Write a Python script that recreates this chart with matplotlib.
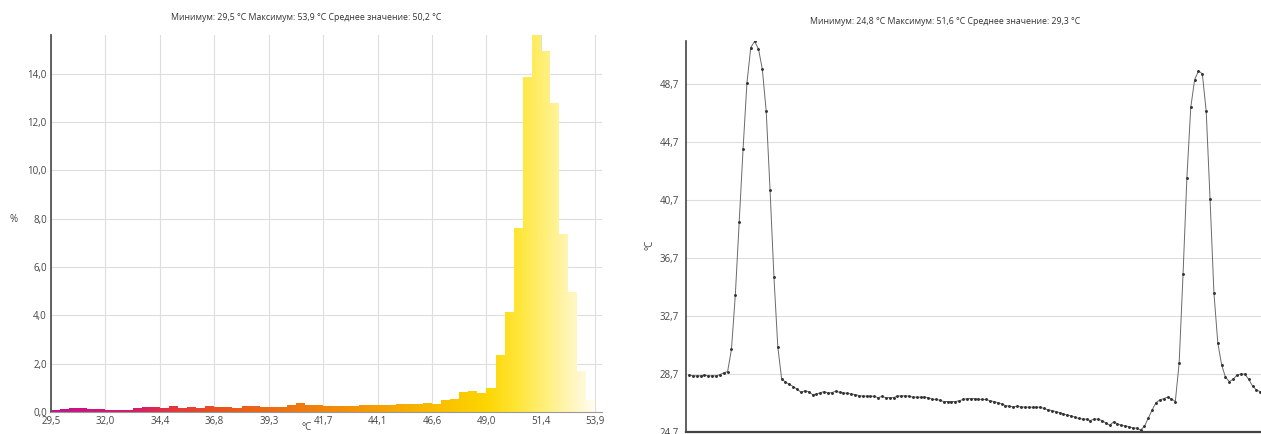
import matplotlib
matplotlib.use("Agg")
import matplotlib.pyplot as plt
from matplotlib.colors import LinearSegmentedColormap
from matplotlib.path import Path
import numpy as np

plt.rcParams["font.family"] = ["Open Sans", "DejaVu Sans"]

# --- histogram (left) ---
HIST_MIN, HIST_MAX = 29.5, 53.9
hist_pct = [
    0.10, 0.14, 0.15, 0.15, 0.14, 0.12, 0.10, 0.10, 0.10, 0.18,
    0.19, 0.19, 0.17, 0.25, 0.17, 0.21, 0.15, 0.23, 0.22, 0.21,
    0.17, 0.26, 0.23, 0.21, 0.19, 0.22, 0.28, 0.36, 0.30, 0.28,
    0.26, 0.25, 0.25, 0.26, 0.28, 0.29, 0.30, 0.30, 0.32, 0.33,
    0.33, 0.39, 0.34, 0.48, 0.55, 0.84, 0.87, 0.80, 0.98, 2.36,
    4.14, 7.60, 13.85, 15.60, 14.95, 12.78, 7.37, 4.96, 1.70, 0.50,
]
hist_xtick_labels = ["29,5", "32,0", "34,4", "36,8", "39,3", "41,7",
                     "44,1", "46,6", "49,0", "51,4", "53,9"]
hist_yticks = [0, 2, 4, 6, 8, 10, 12, 14]
hist_title = "Минимум: 29,5 °C Максимум: 53,9 °C Среднее значение: 50,2 °C"

# --- line profile (right) ---
profile = [
    28.62, 28.57, 28.57, 28.57, 28.62, 28.57, 28.57, 28.57, 28.65, 28.78,
    28.86, 30.40, 34.14, 39.18, 44.16, 48.71, 51.18, 51.60, 51.09, 49.67,
    46.80, 41.36, 35.40, 30.58, 28.36, 28.13, 27.99, 27.83, 27.65, 27.44,
    27.53, 27.48, 27.28, 27.30, 27.41, 27.48, 27.39, 27.41, 27.51, 27.44,
    27.39, 27.37, 27.32, 27.28, 27.21, 27.17, 27.17, 27.17, 27.15, 27.07,
    27.15, 27.07, 27.07, 27.07, 27.17, 27.19, 27.19, 27.17, 27.10, 27.10,
    27.10, 27.10, 27.07, 26.96, 26.94, 26.89, 26.80, 26.80, 26.80, 26.80,
    26.85, 26.94, 27.00, 27.00, 27.00, 26.96, 26.94, 26.94, 26.85, 26.80,
    26.73, 26.64, 26.52, 26.48, 26.43, 26.48, 26.43, 26.41, 26.41, 26.41,
    26.41, 26.41, 26.32, 26.23, 26.18, 26.11, 26.04, 25.95, 25.86, 25.81,
    25.72, 25.63, 25.60, 25.58, 25.49, 25.60, 25.58, 25.49, 25.31, 25.17,
    25.40, 25.26, 25.16, 25.12, 25.07, 24.98, 24.96, 24.84, 25.09, 25.65,
    26.22, 26.73, 26.91, 27.00, 27.10, 26.98, 26.80, 29.48, 35.56, 42.21,
    47.05, 48.96, 49.57, 49.37, 46.80, 40.74, 34.30, 30.85, 29.32, 28.47,
    28.17, 28.34, 28.63, 28.70, 28.68, 28.34, 27.87, 27.60, 27.48,
]
profile_yticks = [24.7, 28.7, 32.7, 36.7, 40.7, 44.7, 48.7]
profile_title = "Минимум: 24,8 °C Максимум: 51,6 °C Среднее значение: 29,3 °C"

heat_cmap = LinearSegmentedColormap.from_list("heat", [
    (0.00, "#c4128e"),
    (0.15, "#d41c68"),
    (0.22, "#e2353e"),
    (0.32, "#ea561a"),
    (0.45, "#f07810"),
    (0.58, "#f59a06"),
    (0.70, "#f9bb00"),
    (0.80, "#fdd600"),
    (0.86, "#ffe63a"),
    (0.91, "#fff07c"),
    (0.96, "#fff6c0"),
    (1.00, "#fffdf2"),
])

GRID = "#dedede"
TXT = "#444444"
FS = 7
FS_TITLE = 6.3

W, H = 1261, 434
fig = plt.figure(figsize=(W / 100, H / 100), dpi=100)

# left: histogram
ax1 = fig.add_axes([51 / W, (H - 412) / H, 551 / W, 377 / H])
edges = np.linspace(HIST_MIN, HIST_MAX, len(hist_pct) + 1)
bars = ax1.bar(edges[:-1], hist_pct, width=np.diff(edges), align="edge",
               color="none", linewidth=0, zorder=2)
grad = np.linspace(0, 1, 512).reshape(1, -1)
im = ax1.imshow(grad, extent=[HIST_MIN, HIST_MAX, 0, 16], aspect="auto",
                cmap=heat_cmap, zorder=2, interpolation="bilinear")
clip = Path.make_compound_path(
    *[b.get_path().transformed(b.get_patch_transform()) for b in bars])
im.set_clip_path(clip, transform=ax1.transData)

xticks = np.linspace(HIST_MIN, HIST_MAX, len(hist_xtick_labels))
ax1.set_xlim(HIST_MIN, 54.2)
ax1.set_ylim(0, 15.6)
ax1.set_xticks(xticks)
ax1.set_xticklabels(hist_xtick_labels)
ax1.set_yticks(hist_yticks)
ax1.set_yticklabels([f"{v:.1f}".replace(".", ",") for v in hist_yticks])
ax1.grid(True, color=GRID, linewidth=0.8, zorder=0)
ax1.set_axisbelow(True)
ax1.tick_params(length=0, labelsize=FS, colors=TXT, pad=3)
for s in ["top", "right"]:
    ax1.spines[s].set_visible(False)
ax1.spines["left"].set_color("#555555")
ax1.spines["left"].set_linewidth(1.3)
ax1.spines["bottom"].set_color("#999999")
ax1.spines["bottom"].set_linewidth(0.8)
fig.text(14 / W, 1 - 220 / H, "%", fontsize=FS, color=TXT, ha="center", va="center")
fig.text(307 / W, 1 - 428 / H, "°C", fontsize=FS, color=TXT, ha="center", va="center")
fig.text(306 / W, 1 - 18 / H, hist_title, fontsize=FS_TITLE, color="#333333",
         ha="center", va="center")

# right: temperature profile
ax2 = fig.add_axes([686 / W, (H - 432) / H, (W - 686) / W, 391.3 / H])
xs = np.arange(len(profile))
ax2.plot(xs, profile, color="#6a6a6a", linewidth=0.7, marker="o",
         markersize=1.1, markerfacecolor="#333333", markeredgecolor="#333333")
ax2.set_xlim(-0.78, 148.2)
ax2.set_ylim(24.7, 51.65)
ax2.set_xticks([])
ax2.set_yticks(profile_yticks)
ax2.set_yticklabels([f"{v:.1f}".replace(".", ",") for v in profile_yticks])
ax2.yaxis.grid(True, color=GRID, linewidth=0.8)
ax2.set_axisbelow(True)
ax2.tick_params(length=0, labelsize=FS, colors=TXT, pad=5)
for s in ["top", "right"]:
    ax2.spines[s].set_visible(False)
ax2.spines["left"].set_color("#444444")
ax2.spines["left"].set_linewidth(1.2)
ax2.spines["bottom"].set_color("#444444")
ax2.spines["bottom"].set_linewidth(1.6)
fig.text(650 / W, 1 - 245 / H, "°C", fontsize=FS, color=TXT, rotation=90,
         ha="center", va="center")
fig.text(945 / W, 1 - 22 / H, profile_title, fontsize=FS_TITLE, color="#333333",
         ha="center", va="center")

fig.savefig("out.png", dpi=100, facecolor="white")
